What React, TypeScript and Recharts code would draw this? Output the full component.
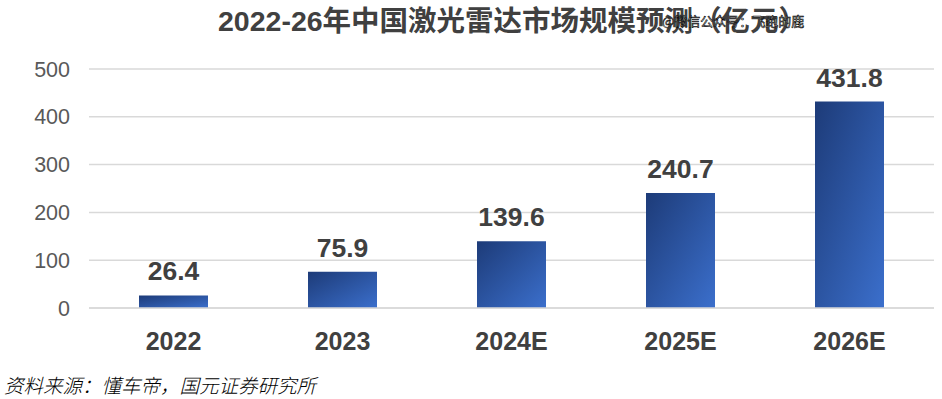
import { BarChart, Bar, XAxis, YAxis, CartesianGrid, LabelList } from 'recharts';

const years = ['2022', '2023', '2024E', '2025E', '2026E'];
const marketSize = [26.4, 75.9, 139.6, 240.7, 431.8];
const yTicks = [0, 100, 200, 300, 400, 500];

const title = '2022-26年中国激光雷达市场规模预测（亿元）';
const source = '资料来源：懂车帝，国元证券研究所';
const watermark = '@微信公众号：飞跑的鹿';

const data = years.map((year, i) => ({ year, value: marketSize[i] }));

const latinFont = '"Liberation Sans", Arial, "Noto Sans CJK SC", sans-serif';

export default function App() {
  return (
    <div style={{ position: 'absolute', left: 0, top: 0, width: 942, height: 399, background: '#fff', overflow: 'hidden' }}>
      <BarChart
        width={942}
        height={399}
        data={data}
        margin={{ top: 69, right: 8, bottom: 51, left: 9 }}
      >
        <defs>
          <linearGradient id="barFill" x1="0" y1="0" x2="1" y2="1">
            <stop offset="0%" stopColor="#1d3b78" />
            <stop offset="100%" stopColor="#3b6fcc" />
          </linearGradient>
        </defs>
        <CartesianGrid vertical={false} stroke="#d9d9d9" strokeWidth={1.5} />
        <XAxis
          dataKey="year"
          height={40}
          axisLine={{ stroke: '#d9d9d9', strokeWidth: 1.5 }}
          tickLine={false}
          tickMargin={18}
          tick={{ fill: '#404040', fontSize: 25, fontWeight: 'bold', fontFamily: latinFont }}
        />
        <YAxis
          width={80}
          domain={[0, 500]}
          ticks={yTicks}
          axisLine={false}
          tickLine={false}
          tickMargin={13}
          tick={{ fill: '#595959', fontSize: 21.5, fontFamily: latinFont }}
        />
        <Bar dataKey="value" fill="url(#barFill)" barSize={69} isAnimationActive={false}>
          <LabelList
            dataKey="value"
            position="top"
            offset={15}
            formatter={(v: number) => v.toFixed(1)}
            style={{ fill: '#404040', fontSize: 26.5, fontWeight: 'bold', fontFamily: latinFont }}
          />
        </Bar>
      </BarChart>
      <div
        style={{
          position: 'absolute',
          left: 218,
          top: 3,
          whiteSpace: 'nowrap',
          fontFamily: latinFont,
          fontWeight: 'bold',
          fontSize: 28.5,
          color: '#404040',
          lineHeight: '36px',
        }}
      >
        {title}
      </div>
      <div
        style={{
          position: 'absolute',
          left: 662,
          top: 12,
          fontFamily: '"Noto Sans CJK SC", sans-serif',
          fontSize: 13,
          color: '#fff',
          WebkitTextStroke: '0.6px #000',
          lineHeight: '18px',
        }}
      >
        {watermark}
      </div>
      <div
        style={{
          position: 'absolute',
          left: 4,
          top: 373,
          fontFamily: '"Noto Sans CJK SC", sans-serif',
          fontStyle: 'italic',
          fontSize: 19.5,
          fontWeight: 300,
          color: '#000',
          lineHeight: '24px',
        }}
      >
        {source}
      </div>
    </div>
  );
}
